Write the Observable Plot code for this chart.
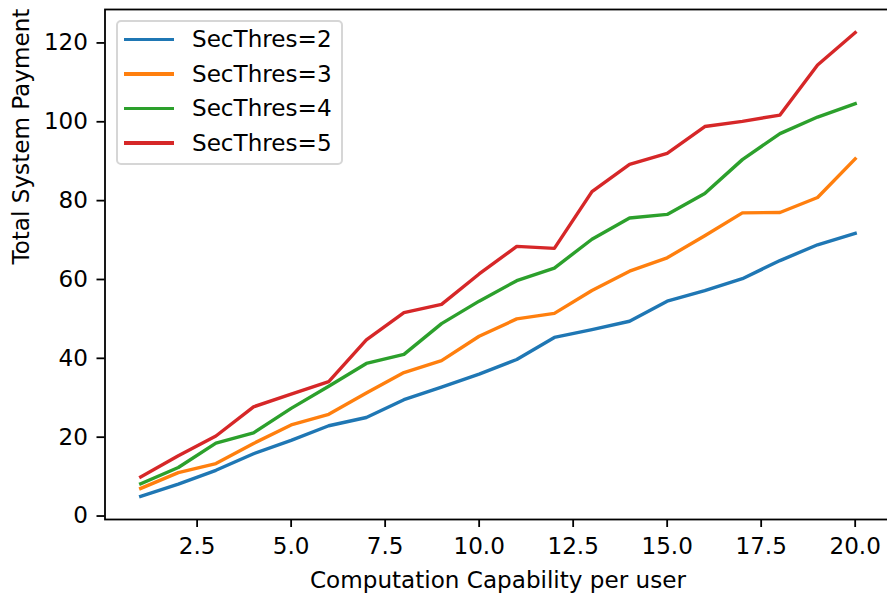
<!DOCTYPE html>
<html>
<head>
<meta charset="utf-8">
<script src="https://cdn.jsdelivr.net/npm/d3@7"></script>
<script src="https://cdn.jsdelivr.net/npm/@observablehq/plot@0.6"></script>
<style>
  body { margin: 0; background: #fff; font-family: "DejaVu Sans", sans-serif; }
  #wrap { position: relative; width: 887px; height: 594px; overflow: hidden; }
  #legend { position: absolute; left: 116px; top: 20px; width: 227px; height: 145px; box-sizing: border-box;
            border: 2px solid #d6d6d6; border-radius: 5px; background: rgba(255,255,255,0.8); padding: 0 0 0 6px; }
  .row { display: flex; align-items: center; height: 34.6px; line-height: 34.6px; font-size: 23.1px; color: #000; white-space: nowrap; }
  .sw { width: 50px; height: 3.4px; margin-right: 18px; flex: none; }
</style>
</head>
<body>
<div id="wrap"></div>
<script>
// ---- data ----
const capability = [1,2,3,4,5,6,7,8,9,10,11,12,13,14,15,16,17,18,19,20];
const seriesNames = ["SecThres=2","SecThres=3","SecThres=4","SecThres=5"];
const seriesColors = ["#1f77b4","#ff7f0e","#2ca02c","#d62728"];
const secThres2 = [5.0,8.1,11.6,15.8,19.2,22.9,25.0,29.5,32.7,36.0,39.7,45.3,47.3,49.4,54.5,57.2,60.2,64.8,68.8,71.7];
const secThres3 = [7.0,11.0,13.3,18.4,23.1,25.8,31.2,36.4,39.4,45.6,50.0,51.4,57.2,62.1,65.5,71.1,76.9,77.0,80.8,90.6];
const secThres4 = [8.2,12.3,18.5,21.1,27.3,32.9,38.7,41.0,48.8,54.5,59.7,62.9,70.2,75.6,76.5,81.8,90.4,97.0,101.2,104.6];
const secThres5 = [9.9,15.3,20.3,27.7,30.9,34.1,44.7,51.6,53.7,61.4,68.4,67.9,82.3,89.2,92.0,98.8,100.1,101.7,114.4,122.6];
const xTicks = [2.5,5.0,7.5,10.0,12.5,15.0,17.5,20.0];
const yTicks = [0,20,40,60,80,100,120];
const xLabel = "Computation Capability per user";
const yLabel = "Total System Payment";

// ---- tidy table ----
const allSeries = [secThres2, secThres3, secThres4, secThres5];
const rows = [];
allSeries.forEach((vals, s) => vals.forEach((v, i) => rows.push({x: capability[i], y: v, series: seriesNames[s]})));

// matplotlib-like 5% margins
function padded(ext) { const r = ext[1] - ext[0]; return [ext[0] - 0.05 * r, ext[1] + 0.05 * r]; }
const xDom = padded(d3.extent(capability));
const yDom = padded(d3.extent(rows, d => d.y));

const FS = 23.1;
const chart = Plot.plot({
  width: 887,
  height: 594,
  marginLeft: 104.5,
  marginRight: -3.4,
  marginTop: 9,
  marginBottom: 75,
  style: {fontFamily: "DejaVu Sans", fontSize: FS + "px", color: "#000", background: "#fff"},
  x: {domain: xDom},
  y: {domain: yDom},
  color: {domain: seriesNames, range: seriesColors},
  marks: [
    Plot.line(rows, {x: "x", y: "y", z: "series", stroke: "series", strokeWidth: 3.4, strokeLinejoin: "round", strokeLinecap: "square"}),
    Plot.frame({stroke: "#000", strokeWidth: 1.8}),
    Plot.axisX({ticks: xTicks, tickFormat: d => d.toFixed(1), tickSize: 8, tickPadding: 10, fontSize: FS, strokeWidth: 1.8, label: null}),
    Plot.axisY({ticks: yTicks, tickFormat: d => String(d), tickSize: 8, tickPadding: 9, fontSize: FS, strokeWidth: 1.8, label: null}),
    Plot.text([xLabel], {text: d => d, frameAnchor: "bottom", dy: 61, fontSize: FS, fill: "#000", lineAnchor: "middle"}),
    Plot.text([yLabel], {text: d => d, frameAnchor: "left", dx: -83.5, rotate: -90, fontSize: FS, fill: "#000", lineAnchor: "middle"})
  ]
});

const wrap = document.getElementById("wrap");
wrap.appendChild(chart);

// legend overlay
const legend = document.createElement("div");
legend.id = "legend";
seriesNames.forEach((name, i) => {
  const row = document.createElement("div");
  row.className = "row";
  const sw = document.createElement("div");
  sw.className = "sw";
  sw.style.background = seriesColors[i];
  const lab = document.createElement("span");
  lab.textContent = name;
  row.appendChild(sw);
  row.appendChild(lab);
  legend.appendChild(row);
});
wrap.appendChild(legend);
</script>
</body>
</html>
